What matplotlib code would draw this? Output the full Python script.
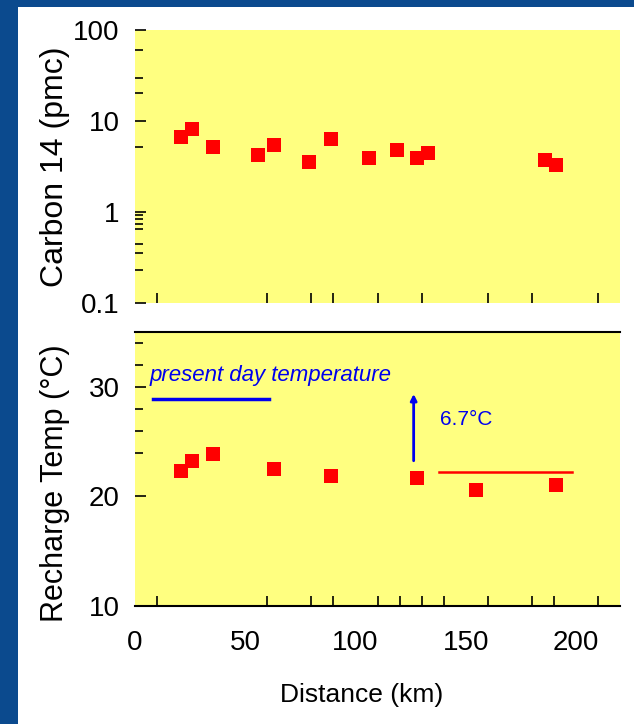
import matplotlib.pyplot as plt
import numpy as np

plt.rcParams['font.family'] = ['Liberation Sans', 'DejaVu Sans']

# carbon 14 samples
c14_dist = [21, 26, 35.5, 56, 63, 79, 89, 106, 119, 128, 133, 186, 191]
c14_pmc = [6.7, 8.2, 5.2, 4.2, 5.4, 3.5, 6.3, 3.9, 4.8, 3.9, 4.5, 3.7, 3.3]

# recharge temperature samples
temp_dist = [21, 26, 35.5, 63, 89, 128, 154.5, 191]
temp_c = [22.3, 23.2, 23.9, 22.5, 21.9, 21.7, 20.6, 21.0]

present_day = 28.9
present_x = [8, 61]
mean_old = 22.2
mean_old_x = [138, 198]

yellow = '#ffff80'
blue = '#0000ee'

fig = plt.figure(figsize=(6.34, 7.24), dpi=100)
fig.patch.set_facecolor('#0b4a8e')

# white slide panel behind the plots
bg = fig.add_axes([18 / 634, 0, 1 - 18 / 634, 1 - 7 / 724], zorder=-1)
bg.set_facecolor('white')
bg.set_xticks([])
bg.set_yticks([])
for s in bg.spines.values():
    s.set_visible(False)

ax1 = fig.add_axes([135 / 634, 1 - 303 / 724, 485 / 634, 273 / 724])
ax2 = fig.add_axes([135 / 634, 1 - 606 / 724, 485 / 634, 274 / 724])

# top panel
ax1.set_facecolor(yellow)
ax1.plot(c14_dist, c14_pmc, 's', color='red', markersize=9.5, markeredgewidth=0)
ax1.set_yscale('log')
ax1.set_ylim(0.1, 100)
ax1.set_xlim(0, 220)
for s in ax1.spines.values():
    s.set_visible(False)
ax1.set_yticks([0.1, 1, 10, 100])
ax1.set_yticklabels(['0.1', '1', '10', '100'])
ax1.set_yticks([0.23, 0.35, 0.44, 0.65, 0.74, 0.84, 0.93, 5.2, 20.3, 29.8, 60], minor=True)
ax1.yaxis.set_minor_formatter(plt.NullFormatter())
ax1.tick_params(axis='y', which='major', direction='in', length=8, width=1.2,
                labelsize=20, pad=11)
ax1.tick_params(axis='y', which='minor', direction='in', length=6, width=1.2)
ax1.set_xticks([])
ax1.set_xticks([10, 60, 80, 90, 110, 130, 160, 180, 210], minor=True)
ax1.tick_params(axis='x', which='minor', direction='in', length=7, width=1.2)
ax1.set_ylabel('Carbon 14 (pmc)', fontsize=23)
ax1.yaxis.set_label_coords(-0.135, 0.5)

# bottom panel
ax2.set_facecolor(yellow)
ax2.plot(temp_dist, temp_c, 's', color='red', markersize=9.5, markeredgewidth=0, zorder=3)
ax2.plot(present_x, [present_day, present_day], color=blue, linewidth=2.5)
ax2.plot(mean_old_x, [mean_old, mean_old], color='red', linewidth=1.8)
ax2.annotate('', xy=(126.4, 29.6), xytext=(126.4, 23.0),
             arrowprops=dict(arrowstyle='-|>', color=blue, lw=2, mutation_scale=9))
ax2.text(6.5, 31.0, 'present day temperature', color=blue, fontsize=16,
         style='italic', va='center', ha='left')
ax2.text(138.5, 27.0, '6.7°C', color=blue, fontsize=15, va='center', ha='left')
ax2.set_xlim(0, 220)
ax2.set_ylim(10, 35)
ax2.spines['left'].set_visible(False)
ax2.spines['right'].set_visible(False)
ax2.spines['top'].set_linewidth(1.5)
ax2.spines['bottom'].set_linewidth(1.5)
ax2.set_yticks([10, 20, 30])
ax2.set_yticks([24, 26, 28, 32, 34], minor=True)
ax2.tick_params(axis='y', which='major', direction='in', length=8, width=1.2,
                labelsize=20, pad=11)
ax2.tick_params(axis='y', which='minor', direction='in', length=6, width=1.2)
ax2.set_xticks([0, 50, 100, 150, 200])
ax2.set_xticks([10, 60, 80, 90, 110, 120, 130, 140, 160, 180, 190, 210], minor=True)
ax2.tick_params(axis='x', which='major', length=0, labelsize=20, pad=17)
ax2.tick_params(axis='x', which='minor', direction='in', length=7, width=1.2)
ax2.set_ylabel('Recharge Temp (°C)', fontsize=22)
ax2.yaxis.set_label_coords(-0.135, 0.45)

fig.text(362 / 634, 1 - 695 / 724, 'Distance (km)', fontsize=19,
         ha='center', va='center')

plt.savefig('out.png', dpi=100, facecolor=fig.get_facecolor())
